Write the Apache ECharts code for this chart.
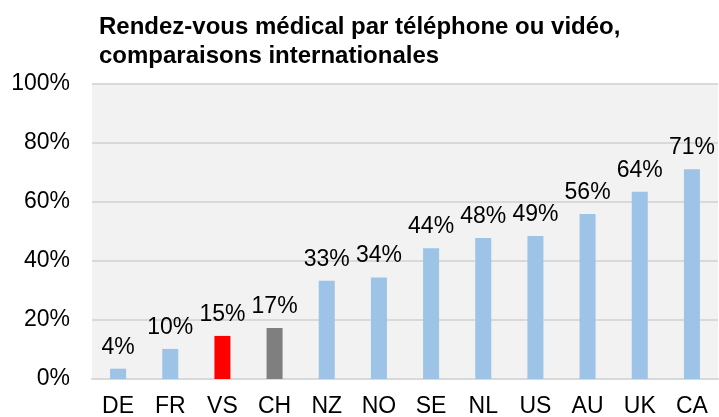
<!DOCTYPE html>
<html>
<head>
<meta charset="utf-8">
<script src="https://cdn.jsdelivr.net/npm/echarts@6/dist/echarts.min.js"></script>
<style>
  html, body { margin: 0; padding: 0; background: #fff; }
  #chart { width: 719px; height: 417px; }
</style>
</head>
<body>
<div id="chart"></div>
<script>
const countries = ["DE", "FR", "VS", "CH", "NZ", "NO", "SE", "NL", "US", "AU", "UK", "CA"]
const shares = [3.5, 10.2, 14.6, 17.3, 33.3, 34.4, 44.3, 47.8, 48.5, 55.9, 63.5, 71.1]
const barColors = ["#9dc3e6", "#9dc3e6", "#ff0000", "#7f7f7f", "#9dc3e6", "#9dc3e6",
    "#9dc3e6", "#9dc3e6", "#9dc3e6", "#9dc3e6", "#9dc3e6", "#9dc3e6"]
const yTicks = [0, 20, 40, 60, 80, 100]

const font = "Liberation Sans, Arial, sans-serif"

let myChart = echarts.init(document.getElementById("chart"))
myChart.setOption({
    backgroundColor: "#fff",
    animation: false,
    title: {
        text: "Rendez-vous médical par téléphone ou vidéo,\ncomparaisons internationales",
        left: 94,
        top: 8,
        textStyle: {
            fontFamily: font,
            fontSize: 24,
            fontWeight: "bold",
            color: "#000",
            lineHeight: 29
        }
    },
    grid: {
        left: 92,
        right: 1,
        top: 84,
        bottom: 38,
        containLabel: false,
        outerBoundsMode: "none",
        show: true,
        backgroundColor: "#f2f2f2",
        borderWidth: 0
    },
    xAxis: {
        type: "category",
        data: countries,
        axisLine: { show: true, lineStyle: { color: "#d9d9d9", width: 2 } },
        axisTick: { show: false },
        axisLabel: {
            margin: 16,
            fontFamily: font,
            fontSize: 23,
            color: "#000"
        }
    },
    yAxis: {
        type: "value",
        min: yTicks[0],
        max: yTicks[yTicks.length - 1],
        interval: 20,
        axisLine: { show: false },
        axisTick: { show: false },
        splitLine: { lineStyle: { color: "#d9d9d9", width: 2 } },
        axisLabel: {
            margin: 22,
            fontFamily: font,
            fontSize: 23,
            color: "#000",
            formatter: v => v + "%"
        }
    },
    series: [{
        type: "bar",
        barWidth: 16,
        data: shares.map((v, i) => ({ value: v, itemStyle: { color: barColors[i] } })),
        label: {
            show: true,
            position: "top",
            distance: 10,
            fontFamily: font,
            fontSize: 23,
            color: "#000",
            formatter: p => Math.round(p.value) + "%"
        }
    }]
})
</script>
</body>
</html>
